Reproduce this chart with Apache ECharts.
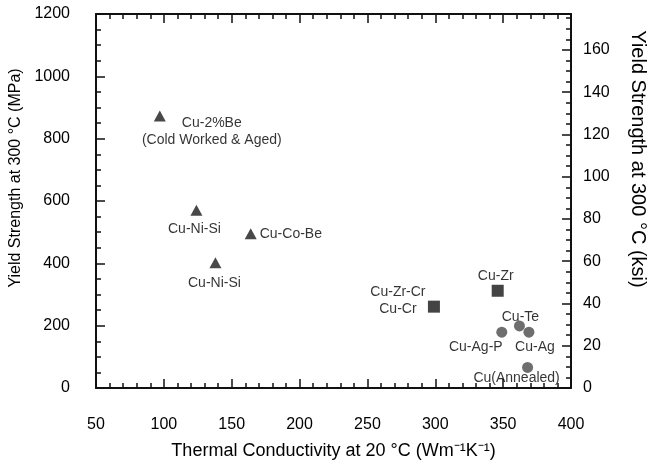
<!DOCTYPE html>
<html>
<head>
<meta charset="utf-8">
<script src="https://cdn.jsdelivr.net/npm/echarts@6/dist/echarts.min.js"></script>
<style>html,body{margin:0;padding:0;background:#fff;}#c{width:657px;height:465px;}</style>
</head>
<body>
<div id="c"></div>
<script>
// ---- data ----
const triNames = ['Cu-2%Be\n(Cold Worked & Aged)', 'Cu-Ni-Si', 'Cu-Co-Be', 'Cu-Ni-Si'];
const triX = [97, 124, 164, 138];
const triY = [873, 570, 495, 402];

const sqNames = ['Cu-Zr-Cr\nCu-Cr', 'Cu-Zr'];
const sqX = [299, 346];
const sqY = [261, 312];

const cirNames = ['Cu-Ag-P', 'Cu-Te', 'Cu-Ag', 'Cu(Annealed)'];
const cirX = [349, 362, 369, 368];
const cirY = [179, 199, 179, 66];

const xTicks = [50, 100, 150, 200, 250, 300, 350, 400];
const yTicksMPa = [0, 200, 400, 600, 800, 1000, 1200];
const yTicksKsi = [0, 20, 40, 60, 80, 100, 120, 140, 160];

// ---- label layout (offset from marker centre, px) ----
const triLabel = [
  {offset: [52, 16], align: 'center'},
  {offset: [-2, 19], align: 'center'},
  {offset: [9, 0], align: 'left'},
  {offset: [-1, 20], align: 'center'}
];
const sqLabel = [
  {offset: [-36, -6], align: 'center'},
  {offset: [-2, -15], align: 'center'}
];
const cirLabel = [
  {offset: [-26, 15], align: 'center'},
  {offset: [1, -9], align: 'center'},
  {offset: [6, 15], align: 'center'},
  {offset: [-11, 11], align: 'center'}
];

const FONT = '"Liberation Sans", Arial, Helvetica, sans-serif';
const INK = '#000';

function build(names, xs, ys, layout) {
  return names.map((n, i) => ({
    name: n,
    value: [xs[i], ys[i]],
    label: {
      show: true,
      formatter: n,
      position: 'inside',
      offset: layout[i].offset,
      align: layout[i].align,
      verticalAlign: 'middle',
      color: INK,
      fontSize: 14,
      lineHeight: 17,
      fontFamily: FONT
    }
  }));
}

const xMin = xTicks[0], xMax = xTicks[xTicks.length - 1];
const axisLine = {show: true, onZero: false, lineStyle: {color: '#111', width: 2}};
const tick = {show: true, inside: true, length: 9, lineStyle: {color: '#111', width: 1.5}};
const minor = (n) => ({show: true, splitNumber: n, length: 5, lineStyle: {color: '#111', width: 1.5}});

const option = {
  backgroundColor: '#fff',
  animation: false,
  grid: {left: 96, top: 14, right: 86, bottom: 77, containLabel: false, outerBoundsMode: 'none'},
  xAxis: [
    {
      type: 'value', position: 'bottom', min: xMin, max: xMax, interval: 50,
      name: 'Thermal Conductivity at 20 °C (Wm⁻¹K⁻¹)',
      nameLocation: 'middle', nameGap: 54,
      nameTextStyle: {fontSize: 18, color: INK, fontFamily: FONT},
      axisLine: axisLine, axisTick: tick, minorTick: minor(5),
      splitLine: {show: false},
      axisLabel: {fontSize: 16, color: INK, fontFamily: FONT, margin: 29, formatter: v => String(v)}
    },
    {
      type: 'value', position: 'top', min: xMin, max: xMax, interval: 50,
      axisLine: axisLine, axisTick: tick, minorTick: minor(5),
      splitLine: {show: false}, axisLabel: {show: false}
    }
  ],
  yAxis: [
    {
      type: 'value', position: 'left', min: yTicksMPa[0], max: yTicksMPa[yTicksMPa.length - 1], interval: 200,
      name: 'Yield Strength at 300 °C (MPa)',
      nameLocation: 'middle', nameGap: 65,
      nameTextStyle: {fontSize: 16, color: INK, fontFamily: FONT, padding: [0, 0, 0, 46]},
      axisLine: axisLine, axisTick: tick, minorTick: minor(4),
      splitLine: {show: false},
      axisLabel: {fontSize: 16, color: INK, fontFamily: FONT, margin: 26, formatter: v => String(v)}
    },
    {
      type: 'value', position: 'right', min: yTicksKsi[0], max: 177, interval: 20,
      name: 'Yield Strength at 300 °C (ksi)',
      nameLocation: 'middle', nameGap: 57, nameRotate: -90,
      nameTextStyle: {fontSize: 20, color: INK, fontFamily: FONT, padding: [0, 84, 0, 0]},
      axisLine: axisLine, axisTick: tick, minorTick: minor(4),
      splitLine: {show: false},
      axisLabel: {fontSize: 16, color: INK, fontFamily: FONT, margin: 12,
        formatter: v => (yTicksKsi.indexOf(v) >= 0 ? String(v) : '')}
    }
  ],
  series: [
    {
      type: 'scatter', xAxisIndex: 0, yAxisIndex: 0,
      symbol: 'triangle', symbolSize: [12, 11],
      itemStyle: {color: '#1a1a1a'},
      data: build(triNames, triX, triY, triLabel)
    },
    {
      type: 'scatter', xAxisIndex: 0, yAxisIndex: 0,
      symbol: 'rect', symbolSize: 12,
      itemStyle: {color: '#151515'},
      data: build(sqNames, sqX, sqY, sqLabel)
    },
    {
      type: 'scatter', xAxisIndex: 0, yAxisIndex: 0,
      symbol: 'circle', symbolSize: 11,
      itemStyle: {color: '#4a4a4a'},
      data: build(cirNames, cirX, cirY, cirLabel)
    }
  ]
};

const chart = echarts.init(document.getElementById('c'), null, {renderer: 'canvas'});
chart.setOption(option);
</script>
</body>
</html>
